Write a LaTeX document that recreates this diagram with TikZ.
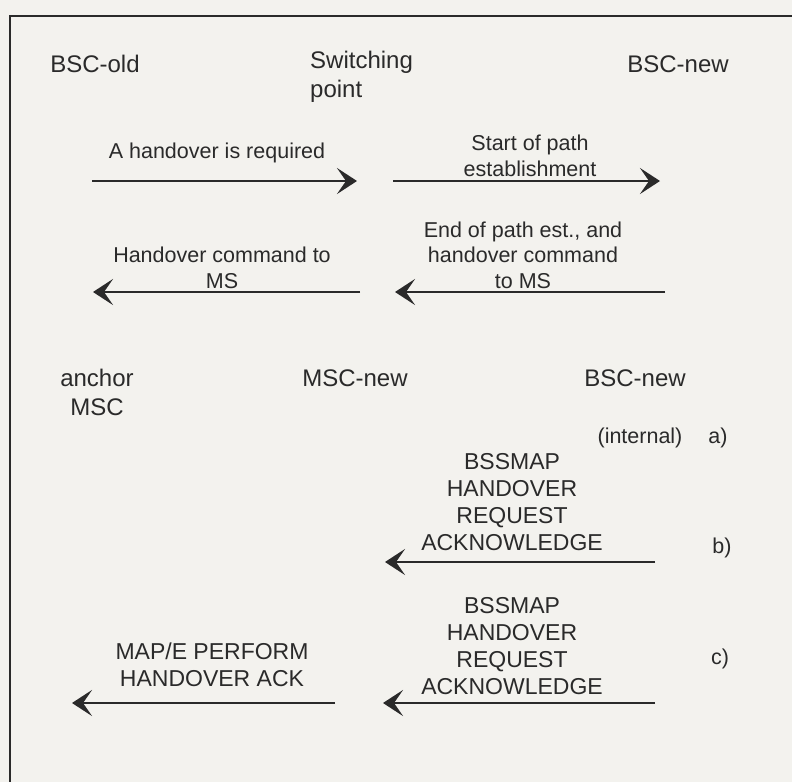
\documentclass[tikz,border=0pt]{standalone}
\usepackage{fontspec}
\setmainfont{Liberation Sans}
\usetikzlibrary{arrows.meta}
\definecolor{paper}{HTML}{F3F2EE}
\definecolor{ink}{HTML}{2A2A2A}
\tikzset{
  head/.style={font=\fontsize{24}{29}\selectfont, text=ink, inner sep=0pt},
  lbl/.style={font=\fontsize{21.5}{25.5}\selectfont, text=ink, inner sep=0pt, align=center},
  caps/.style={font=\fontsize{23}{27}\selectfont, text=ink, inner sep=0pt, align=center},
  msg/.style={draw=ink, line width=2.6pt,
    -{Stealth[length=20pt, width=26pt, inset=9pt]}},
  frame/.style={draw=ink, line width=2.4pt}
}
\begin{document}
\begin{tikzpicture}[x=1pt, y=-1pt]
  % page and frame
  \fill[paper] (0,0) rectangle (792,782);
  \useasboundingbox (0,0) rectangle (792,782);
  \coordinate (fTop) at (10,16);
  \coordinate (fRight) at (792,16);
  \coordinate (fBottom) at (10,782);
  \draw[frame] (fRight) -- (fTop) -- (fBottom);

  % upper part: old BSC, switching point, new BSC
  \node[head] (bscold) at (95,64) {BSC-old};
  \node[head, anchor=north west, align=left] (swp) at (310,51) {Switching\\point};
  \node[head] (bscnew) at (678,64) {BSC-new};

  \node[lbl] (l1) at (217,153) {A handover is required};
  \node[lbl] (l2) at (530,156) {Start of path\\establishment};
  \node[lbl] (l3) at (222,268) {Handover command to\\MS};
  \node[lbl] (l4) at (523,255) {End of path est., and\\handover command\\to MS};

  \coordinate (a1s) at (92,181);  \coordinate (a1e) at (357,181);
  \coordinate (a2s) at (393,181); \coordinate (a2e) at (660,181);
  \coordinate (a3s) at (665,292); \coordinate (a3e) at (395,292);
  \coordinate (a4s) at (360,292); \coordinate (a4e) at (93,292);
  \draw[msg] (a1s) -- (a1e);
  \draw[msg] (a2s) -- (a2e);
  \draw[msg] (a3s) -- (a3e);
  \draw[msg] (a4s) -- (a4e);

  % lower part: anchor MSC, new MSC, new BSC
  \node[head, align=center] (anchor) at (97,392) {anchor\\MSC};
  \node[head] (mscnew) at (355,378) {MSC-new};
  \node[head] (bscnew2) at (635,378) {BSC-new};

  \node[lbl] (internal) at (640,438) {(internal)};
  \node[lbl] (ka) at (718,438) {a)};
  \node[caps] (ack1) at (512,502) {BSSMAP\\HANDOVER\\REQUEST\\ACKNOWLEDGE};
  \node[lbl] (kb) at (722,548) {b)};
  \node[caps] (ack2) at (512,646) {BSSMAP\\HANDOVER\\REQUEST\\ACKNOWLEDGE};
  \node[lbl] (kc) at (720,659) {c)};
  \node[caps] (perf) at (212,665) {MAP/E PERFORM\\HANDOVER ACK};

  \coordinate (bs) at (655,562);  \coordinate (be) at (385,562);
  \coordinate (c1s) at (655,703); \coordinate (c1e) at (383,703);
  \coordinate (c2s) at (335,703); \coordinate (c2e) at (72,703);
  \draw[msg] (bs) -- (be);
  \draw[msg] (c1s) -- (c1e);
  \draw[msg] (c2s) -- (c2e);
\end{tikzpicture}
\end{document}
